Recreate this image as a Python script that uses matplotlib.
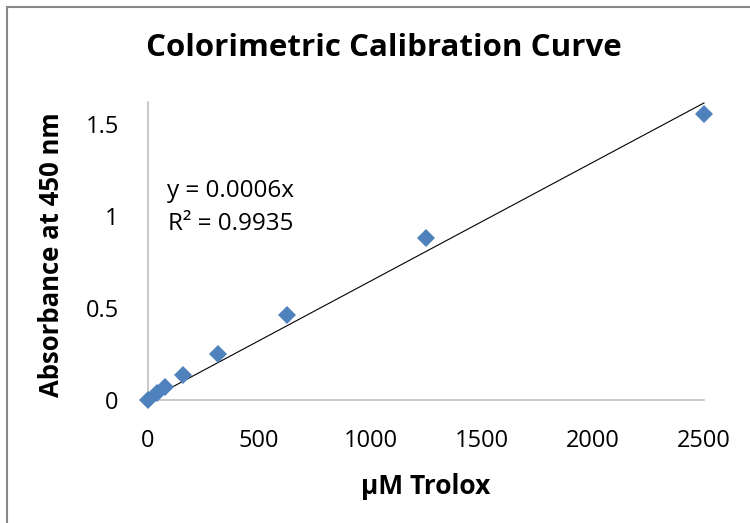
import numpy as np
import matplotlib.pyplot as plt
from matplotlib.patches import Rectangle

# Trolox standards (uM) and absorbance at 450 nm
trolox_um = [0, 39.0625, 78.125, 156.25, 312.5, 625, 1250, 2500]
absorbance = [0.0, 0.038, 0.07, 0.136, 0.25, 0.462, 0.882, 1.554]
x_ticks = [0, 500, 1000, 1500, 2000, 2500]
y_ticks = [0, 0.5, 1, 1.5]
y_tick_labels = ['0', '0.5', '1', '1.5']
equation_label = 'y = 0.0006x\nR\u00b2 = 0.9935'

plt.rcParams['font.family'] = ['Open Sans', 'DejaVu Sans']

x = np.array(trolox_um)
y = np.array(absorbance)

# linear trendline forced through the origin
slope = np.sum(x * y) / np.sum(x * x)

fig = plt.figure(figsize=(7.5, 5.23), dpi=100)
ax = fig.add_axes([148 / 750, 1 - 400 / 523, 556 / 750, 298 / 523])

xs = np.array([0, max(trolox_um)])
ax.plot(xs, slope * xs, color='black', lw=0.8, zorder=2, clip_on=False)
ax.plot(x, y, linestyle='none', marker='D', markersize=9, color='#4F81BD',
        markeredgewidth=0, zorder=3, clip_on=False)

ax.set_xlim(0, 2500)
ax.set_ylim(0, 1.62)
ax.set_xticks(x_ticks)
ax.set_yticks(y_ticks)
ax.set_yticklabels(y_tick_labels)
ax.tick_params(length=0, labelsize=17, colors='black')
ax.tick_params(axis='x', pad=21)
ax.tick_params(axis='y', pad=21)

for side in ['top', 'right']:
    ax.spines[side].set_visible(False)
for side in ['left', 'bottom']:
    ax.spines[side].set_color('#BFBFBF')
    ax.spines[side].set_linewidth(1.2)

ax.text(0.148, 0.645, equation_label,
        transform=ax.transAxes, ha='center', va='center', multialignment='center',
        fontsize=17.5, linespacing=1.5)

fig.text(384 / 750, 1 - 48 / 523, 'Colorimetric Calibration Curve',
         ha='center', va='center', fontsize=22.5, fontweight='bold')
fig.text(52 / 750, 1 - 255 / 523, 'Absorbance at 450 nm', rotation=90,
         ha='center', va='center', fontsize=18.5, fontweight='bold')
fig.text(426 / 750, 1 - 486 / 523, '\u03bcM Trolox',
         ha='center', va='center', fontsize=19, fontweight='bold')

# chart border
fig.patches.append(Rectangle((7 / 750, -0.1), 1.2, 1 - 7 / 523 + 0.1,
                             transform=fig.transFigure, fill=False,
                             edgecolor='#888888', lw=1.5))

fig.savefig('out.png', dpi=100)
